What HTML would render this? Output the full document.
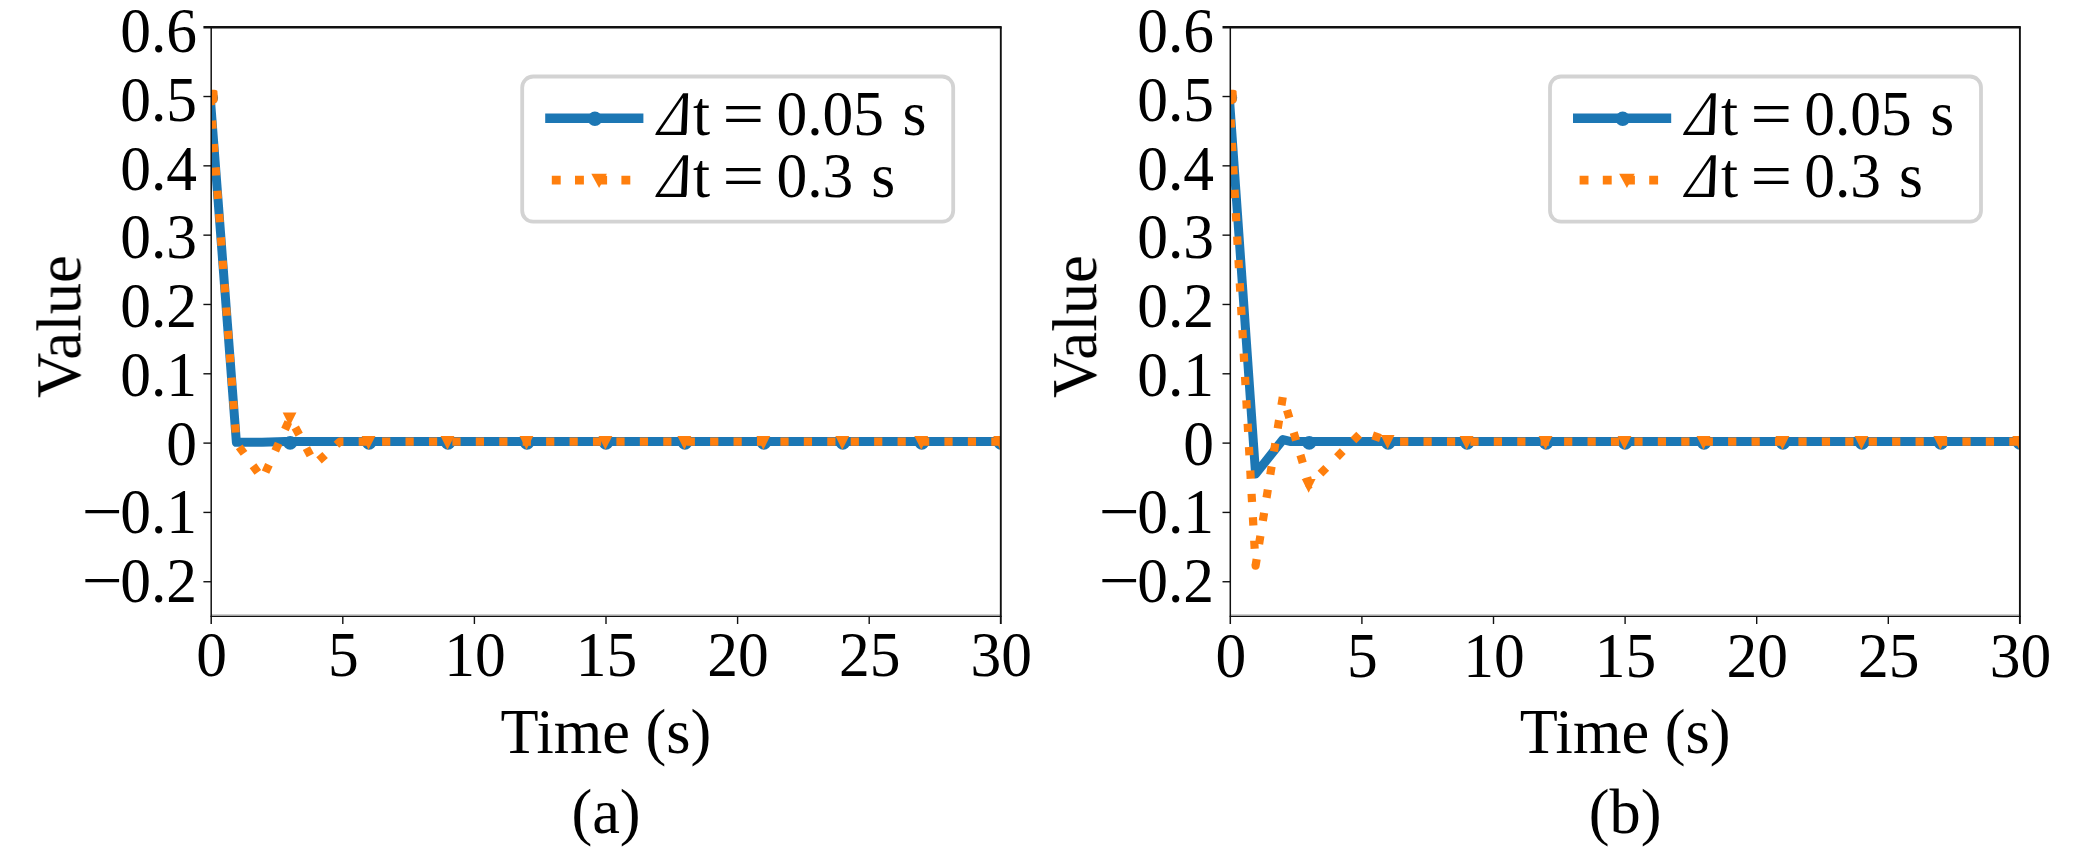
<!DOCTYPE html>
<html><head><meta charset="utf-8"><title>Figure</title>
<style>
html,body{margin:0;padding:0;background:#fff;}
svg{display:block;}
text{font-family:"Liberation Serif","Times New Roman",serif;font-size:61.5px;fill:#000;}
</style></head><body>
<svg width="2079" height="853" viewBox="0 0 2079 853">
<defs><filter id="soft" x="0" y="0" width="2079" height="853" filterUnits="userSpaceOnUse"><feGaussianBlur stdDeviation="0.55"/></filter></defs>
<rect width="2079" height="853" fill="#fff"/>
<g filter="url(#soft)">
<clipPath id="clipa"><rect x="211.2" y="27.2" width="789.5999999999999" height="589.1999999999999"/></clipPath>
<text transform="translate(197.00,52.30) scale(1,1.045)" text-anchor="end">0.6</text>
<text transform="translate(197.00,121.00) scale(1,1.045)" text-anchor="end">0.5</text>
<text transform="translate(197.00,189.70) scale(1,1.045)" text-anchor="end">0.4</text>
<text transform="translate(197.00,258.40) scale(1,1.045)" text-anchor="end">0.3</text>
<text transform="translate(197.00,327.10) scale(1,1.045)" text-anchor="end">0.2</text>
<text transform="translate(197.00,395.80) scale(1,1.045)" text-anchor="end">0.1</text>
<text transform="translate(197.00,464.50) scale(1,1.045)" text-anchor="end">0</text>
<text transform="translate(81.70,533.20) scale(1.18,1.045)" text-anchor="start">−</text>
<text transform="translate(197.00,533.20) scale(1,1.045)" text-anchor="end">0.1</text>
<text transform="translate(81.70,601.90) scale(1.18,1.045)" text-anchor="start">−</text>
<text transform="translate(197.00,601.90) scale(1,1.045)" text-anchor="end">0.2</text>
<text transform="translate(211.70,676.20) scale(1,1.045)" text-anchor="middle">0</text>
<text transform="translate(343.30,676.20) scale(1,1.045)" text-anchor="middle">5</text>
<text transform="translate(474.90,676.20) scale(1,1.045)" text-anchor="middle">10</text>
<text transform="translate(606.50,676.20) scale(1,1.045)" text-anchor="middle">15</text>
<text transform="translate(738.10,676.20) scale(1,1.045)" text-anchor="middle">20</text>
<text transform="translate(869.70,676.20) scale(1,1.045)" text-anchor="middle">25</text>
<text transform="translate(1001.30,676.20) scale(1,1.045)" text-anchor="middle">30</text>
<g clip-path="url(#clipa)">
<polyline points="210.20,96.50 236.40,442.30 262.00,442.30 285.00,441.60 1000.80,441.60" fill="none" stroke="#1f77b4" stroke-width="9.0" stroke-linejoin="round"/>
<circle cx="211.20" cy="97.80" r="6.9" fill="#1f77b4"/>
<circle cx="290.16" cy="442.90" r="6.9" fill="#1f77b4"/>
<circle cx="369.12" cy="442.90" r="6.9" fill="#1f77b4"/>
<circle cx="448.08" cy="442.90" r="6.9" fill="#1f77b4"/>
<circle cx="527.04" cy="442.90" r="6.9" fill="#1f77b4"/>
<circle cx="606.00" cy="442.90" r="6.9" fill="#1f77b4"/>
<circle cx="684.96" cy="442.90" r="6.9" fill="#1f77b4"/>
<circle cx="763.92" cy="442.90" r="6.9" fill="#1f77b4"/>
<circle cx="842.88" cy="442.90" r="6.9" fill="#1f77b4"/>
<circle cx="921.84" cy="442.90" r="6.9" fill="#1f77b4"/>
<circle cx="1000.80" cy="442.90" r="6.9" fill="#1f77b4"/>
<polyline points="210.20,96.50 236.50,443.10 262.50,478.80 290.20,418.00 315.00,464.00 340.00,441.60 1000.80,441.60" fill="none" stroke="#ff7f0e" stroke-width="8.2" stroke-dasharray="8.2 15.23" stroke-dashoffset="-0.75" stroke-linejoin="round"/>
<path d="M203.70,90.80 L217.50,90.80 L210.60,104.60 Z" fill="#ff7f0e"/>
<path d="M282.66,412.39 L296.46,412.39 L289.56,426.19 Z" fill="#ff7f0e"/>
<path d="M361.62,435.90 L375.42,435.90 L368.52,449.70 Z" fill="#ff7f0e"/>
<path d="M440.58,435.90 L454.38,435.90 L447.48,449.70 Z" fill="#ff7f0e"/>
<path d="M519.54,435.90 L533.34,435.90 L526.44,449.70 Z" fill="#ff7f0e"/>
<path d="M598.50,435.90 L612.30,435.90 L605.40,449.70 Z" fill="#ff7f0e"/>
<path d="M677.46,435.90 L691.26,435.90 L684.36,449.70 Z" fill="#ff7f0e"/>
<path d="M756.42,435.90 L770.22,435.90 L763.32,449.70 Z" fill="#ff7f0e"/>
<path d="M835.38,435.90 L849.18,435.90 L842.28,449.70 Z" fill="#ff7f0e"/>
<path d="M914.34,435.90 L928.14,435.90 L921.24,449.70 Z" fill="#ff7f0e"/>
<path d="M993.30,435.90 L1007.10,435.90 L1000.20,449.70 Z" fill="#ff7f0e"/>
<rect x="208.20" y="89.8" width="9.4" height="13.2" rx="3.2" fill="#ff7f0e"/>
</g>
<text transform="translate(606.00,752.60) scale(1.014,1.03)" text-anchor="middle">Time (s)</text>
<text transform="translate(606.00,833.10) scale(1.014,1.03)" text-anchor="middle">(a)</text>
<text transform="translate(80.30,326.55) rotate(-90) scale(1.02,1.035)" text-anchor="middle">Value</text>
<rect x="522.20" y="76.5" width="431.0" height="145.2" rx="11" ry="11" fill="#fff" stroke="#d3d3d3" stroke-width="3.8"/>
<line x1="545.20" y1="118.2" x2="643.40" y2="118.2" stroke="#1f77b4" stroke-width="9.6"/>
<circle cx="594.90" cy="118.8" r="7.2" fill="#1f77b4"/>
<line x1="551.80" y1="180.1" x2="632.00" y2="180.1" stroke="#ff7f0e" stroke-width="8.6" stroke-dasharray="8.9 14.3"/>
<path d="M591.30,173.70 L606.90,173.70 L599.10,188.10 Z" fill="#ff7f0e"/>
<text transform="translate(657.00,134.90) skewX(-10) scale(0.88,1.03)" font-style="italic">Δ</text>
<text transform="translate(693.10,134.90) scale(1,1.03)" text-anchor="start">t</text>
<text transform="translate(722.60,134.90) scale(1.2,1.03)" text-anchor="start">=</text>
<text transform="translate(776.40,134.90) scale(1,1.045)" text-anchor="start">0.05</text>
<text transform="translate(902.50,134.90) scale(1,1.03)" text-anchor="start">s</text>
<text transform="translate(657.00,197.20) skewX(-10) scale(0.88,1.03)" font-style="italic">Δ</text>
<text transform="translate(693.10,197.20) scale(1,1.03)" text-anchor="start">t</text>
<text transform="translate(722.60,197.20) scale(1.2,1.03)" text-anchor="start">=</text>
<text transform="translate(776.40,197.20) scale(1,1.045)" text-anchor="start">0.3</text>
<text transform="translate(871.25,197.20) scale(1,1.03)" text-anchor="start">s</text>
<clipPath id="clipb"><rect x="1230.3" y="27.2" width="789.6000000000001" height="589.1999999999999"/></clipPath>
<text transform="translate(1214.10,52.30) scale(1,1.045)" text-anchor="end">0.6</text>
<text transform="translate(1214.10,121.00) scale(1,1.045)" text-anchor="end">0.5</text>
<text transform="translate(1214.10,189.70) scale(1,1.045)" text-anchor="end">0.4</text>
<text transform="translate(1214.10,258.40) scale(1,1.045)" text-anchor="end">0.3</text>
<text transform="translate(1214.10,327.10) scale(1,1.045)" text-anchor="end">0.2</text>
<text transform="translate(1214.10,395.80) scale(1,1.045)" text-anchor="end">0.1</text>
<text transform="translate(1214.10,464.50) scale(1,1.045)" text-anchor="end">0</text>
<text transform="translate(1098.80,533.20) scale(1.18,1.045)" text-anchor="start">−</text>
<text transform="translate(1214.10,533.20) scale(1,1.045)" text-anchor="end">0.1</text>
<text transform="translate(1098.80,601.90) scale(1.18,1.045)" text-anchor="start">−</text>
<text transform="translate(1214.10,601.90) scale(1,1.045)" text-anchor="end">0.2</text>
<text transform="translate(1230.80,677.10) scale(1,1.045)" text-anchor="middle">0</text>
<text transform="translate(1362.40,677.10) scale(1,1.045)" text-anchor="middle">5</text>
<text transform="translate(1494.00,677.10) scale(1,1.045)" text-anchor="middle">10</text>
<text transform="translate(1625.60,677.10) scale(1,1.045)" text-anchor="middle">15</text>
<text transform="translate(1757.20,677.10) scale(1,1.045)" text-anchor="middle">20</text>
<text transform="translate(1888.80,677.10) scale(1,1.045)" text-anchor="middle">25</text>
<text transform="translate(2020.40,677.10) scale(1,1.045)" text-anchor="middle">30</text>
<g clip-path="url(#clipb)">
<polyline points="1229.30,96.50 1255.60,474.00 1282.90,439.60 1291.00,441.60 2019.90,441.60" fill="none" stroke="#1f77b4" stroke-width="9.0" stroke-linejoin="round"/>
<circle cx="1230.30" cy="97.80" r="6.9" fill="#1f77b4"/>
<circle cx="1309.26" cy="442.90" r="6.9" fill="#1f77b4"/>
<circle cx="1388.22" cy="442.90" r="6.9" fill="#1f77b4"/>
<circle cx="1467.18" cy="442.90" r="6.9" fill="#1f77b4"/>
<circle cx="1546.14" cy="442.90" r="6.9" fill="#1f77b4"/>
<circle cx="1625.10" cy="442.90" r="6.9" fill="#1f77b4"/>
<circle cx="1704.06" cy="442.90" r="6.9" fill="#1f77b4"/>
<circle cx="1783.02" cy="442.90" r="6.9" fill="#1f77b4"/>
<circle cx="1861.98" cy="442.90" r="6.9" fill="#1f77b4"/>
<circle cx="1940.94" cy="442.90" r="6.9" fill="#1f77b4"/>
<circle cx="2019.90" cy="442.90" r="6.9" fill="#1f77b4"/>
<polyline points="1229.30,96.50 1255.60,565.60 1282.90,396.30 1309.30,484.80 1335.60,458.50 1361.90,431.80 1388.20,440.80 1392.00,441.30" fill="none" stroke="#ff7f0e" stroke-width="8.2" stroke-dasharray="8.2 15.23" stroke-dashoffset="0.33" stroke-linejoin="round"/>
<polyline points="1392.00,441.30 1400.00,441.60 2019.90,441.60" fill="none" stroke="#ff7f0e" stroke-width="8.2" stroke-dasharray="8.2 15.23" stroke-dashoffset="15.33" stroke-linejoin="round"/>
<path d="M1222.80,90.80 L1236.60,90.80 L1229.70,104.60 Z" fill="#ff7f0e"/>
<path d="M1301.76,478.97 L1315.56,478.97 L1308.66,492.77 Z" fill="#ff7f0e"/>
<path d="M1380.72,435.10 L1394.52,435.10 L1387.62,448.90 Z" fill="#ff7f0e"/>
<path d="M1459.68,435.90 L1473.48,435.90 L1466.58,449.70 Z" fill="#ff7f0e"/>
<path d="M1538.64,435.90 L1552.44,435.90 L1545.54,449.70 Z" fill="#ff7f0e"/>
<path d="M1617.60,435.90 L1631.40,435.90 L1624.50,449.70 Z" fill="#ff7f0e"/>
<path d="M1696.56,435.90 L1710.36,435.90 L1703.46,449.70 Z" fill="#ff7f0e"/>
<path d="M1775.52,435.90 L1789.32,435.90 L1782.42,449.70 Z" fill="#ff7f0e"/>
<path d="M1854.48,435.90 L1868.28,435.90 L1861.38,449.70 Z" fill="#ff7f0e"/>
<path d="M1933.44,435.90 L1947.24,435.90 L1940.34,449.70 Z" fill="#ff7f0e"/>
<path d="M2012.40,435.90 L2026.20,435.90 L2019.30,449.70 Z" fill="#ff7f0e"/>
<rect x="1227.30" y="89.8" width="9.4" height="13.2" rx="3.2" fill="#ff7f0e"/>
</g>
<text transform="translate(1625.10,752.60) scale(1.014,1.03)" text-anchor="middle">Time (s)</text>
<text transform="translate(1625.10,833.10) scale(1.014,1.03)" text-anchor="middle">(b)</text>
<text transform="translate(1096.10,326.55) rotate(-90) scale(1.02,1.035)" text-anchor="middle">Value</text>
<rect x="1550.00" y="76.5" width="431.0" height="145.2" rx="11" ry="11" fill="#fff" stroke="#d3d3d3" stroke-width="3.8"/>
<line x1="1573.00" y1="118.2" x2="1671.20" y2="118.2" stroke="#1f77b4" stroke-width="9.6"/>
<circle cx="1622.70" cy="118.8" r="7.2" fill="#1f77b4"/>
<line x1="1579.60" y1="180.1" x2="1659.80" y2="180.1" stroke="#ff7f0e" stroke-width="8.6" stroke-dasharray="8.9 14.3"/>
<path d="M1619.10,173.70 L1634.70,173.70 L1626.90,188.10 Z" fill="#ff7f0e"/>
<text transform="translate(1684.80,134.90) skewX(-10) scale(0.88,1.03)" font-style="italic">Δ</text>
<text transform="translate(1720.90,134.90) scale(1,1.03)" text-anchor="start">t</text>
<text transform="translate(1750.40,134.90) scale(1.2,1.03)" text-anchor="start">=</text>
<text transform="translate(1804.20,134.90) scale(1,1.045)" text-anchor="start">0.05</text>
<text transform="translate(1930.30,134.90) scale(1,1.03)" text-anchor="start">s</text>
<text transform="translate(1684.80,197.20) skewX(-10) scale(0.88,1.03)" font-style="italic">Δ</text>
<text transform="translate(1720.90,197.20) scale(1,1.03)" text-anchor="start">t</text>
<text transform="translate(1750.40,197.20) scale(1.2,1.03)" text-anchor="start">=</text>
<text transform="translate(1804.20,197.20) scale(1,1.045)" text-anchor="start">0.3</text>
<text transform="translate(1899.05,197.20) scale(1,1.03)" text-anchor="start">s</text>
</g>
<g>
<line x1="203.40" y1="96.52" x2="211.20" y2="96.52" stroke="#111" stroke-width="1.4"/>
<line x1="203.40" y1="165.84" x2="211.20" y2="165.84" stroke="#111" stroke-width="1.4"/>
<line x1="203.40" y1="235.15" x2="211.20" y2="235.15" stroke="#111" stroke-width="1.4"/>
<line x1="203.40" y1="304.47" x2="211.20" y2="304.47" stroke="#111" stroke-width="1.4"/>
<line x1="203.40" y1="373.79" x2="211.20" y2="373.79" stroke="#111" stroke-width="1.4"/>
<line x1="203.40" y1="443.11" x2="211.20" y2="443.11" stroke="#111" stroke-width="1.4"/>
<line x1="203.40" y1="512.42" x2="211.20" y2="512.42" stroke="#111" stroke-width="1.4"/>
<line x1="203.40" y1="581.74" x2="211.20" y2="581.74" stroke="#111" stroke-width="1.4"/>
<line x1="342.80" y1="616.40" x2="342.80" y2="624.00" stroke="#111" stroke-width="1.4"/>
<line x1="474.40" y1="616.40" x2="474.40" y2="624.00" stroke="#111" stroke-width="1.4"/>
<line x1="606.00" y1="616.40" x2="606.00" y2="624.00" stroke="#111" stroke-width="1.4"/>
<line x1="737.60" y1="616.40" x2="737.60" y2="624.00" stroke="#111" stroke-width="1.4"/>
<line x1="869.20" y1="616.40" x2="869.20" y2="624.00" stroke="#111" stroke-width="1.4"/>
<line x1="211.20" y1="614.90" x2="1000.80" y2="614.90" stroke="#cdcdcd" stroke-width="1.7"/>
<line x1="203.40" y1="27.20" x2="1001.70" y2="27.20" stroke="#111" stroke-width="2.5"/>
<line x1="1000.80" y1="27.20" x2="1000.80" y2="624.00" stroke="#111" stroke-width="1.9"/>
<line x1="211.20" y1="27.20" x2="211.20" y2="624.00" stroke="#111" stroke-width="1.5"/>
<line x1="210.50" y1="616.40" x2="1001.70" y2="616.40" stroke="#111" stroke-width="1.4"/>
<line x1="1222.50" y1="96.52" x2="1230.30" y2="96.52" stroke="#111" stroke-width="1.4"/>
<line x1="1222.50" y1="165.84" x2="1230.30" y2="165.84" stroke="#111" stroke-width="1.4"/>
<line x1="1222.50" y1="235.15" x2="1230.30" y2="235.15" stroke="#111" stroke-width="1.4"/>
<line x1="1222.50" y1="304.47" x2="1230.30" y2="304.47" stroke="#111" stroke-width="1.4"/>
<line x1="1222.50" y1="373.79" x2="1230.30" y2="373.79" stroke="#111" stroke-width="1.4"/>
<line x1="1222.50" y1="443.11" x2="1230.30" y2="443.11" stroke="#111" stroke-width="1.4"/>
<line x1="1222.50" y1="512.42" x2="1230.30" y2="512.42" stroke="#111" stroke-width="1.4"/>
<line x1="1222.50" y1="581.74" x2="1230.30" y2="581.74" stroke="#111" stroke-width="1.4"/>
<line x1="1361.90" y1="616.40" x2="1361.90" y2="624.00" stroke="#111" stroke-width="1.4"/>
<line x1="1493.50" y1="616.40" x2="1493.50" y2="624.00" stroke="#111" stroke-width="1.4"/>
<line x1="1625.10" y1="616.40" x2="1625.10" y2="624.00" stroke="#111" stroke-width="1.4"/>
<line x1="1756.70" y1="616.40" x2="1756.70" y2="624.00" stroke="#111" stroke-width="1.4"/>
<line x1="1888.30" y1="616.40" x2="1888.30" y2="624.00" stroke="#111" stroke-width="1.4"/>
<line x1="1230.30" y1="614.90" x2="2019.90" y2="614.90" stroke="#cdcdcd" stroke-width="1.7"/>
<line x1="1222.50" y1="27.20" x2="2020.80" y2="27.20" stroke="#111" stroke-width="2.5"/>
<line x1="2019.90" y1="27.20" x2="2019.90" y2="624.00" stroke="#111" stroke-width="1.9"/>
<line x1="1230.30" y1="27.20" x2="1230.30" y2="624.00" stroke="#111" stroke-width="1.5"/>
<line x1="1229.60" y1="616.40" x2="2020.80" y2="616.40" stroke="#111" stroke-width="1.4"/>
</g>
</svg>
</body></html>
